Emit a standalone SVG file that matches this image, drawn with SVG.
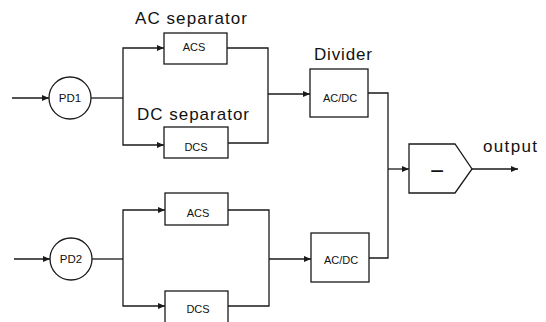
<svg xmlns="http://www.w3.org/2000/svg" width="546" height="322" viewBox="0 0 546 322">
<style>
.box{fill:#fff;stroke:#1a1a1a;stroke-width:1.3}
.ln{fill:none;stroke:#1a1a1a;stroke-width:1.3}
.big{font-family:"Liberation Sans",Arial,sans-serif;font-size:17px;fill:#111}
.sm{font-family:"Liberation Sans",Arial,sans-serif;font-size:11px;fill:#111;text-anchor:middle}
.pd{font-family:"Liberation Sans",Arial,sans-serif;font-size:11.5px;fill:#111;text-anchor:middle}
</style>
<defs>
<marker id="ah" markerUnits="userSpaceOnUse" markerWidth="8" markerHeight="6" refX="7" refY="3" orient="auto">
<path d="M0,0 L7,3 L0,6 Z" fill="#1a1a1a"/>
</marker>
</defs>
<rect width="546" height="322" fill="#fff"/>
<g id="connectors">
<path class="ln" d="M12,98 H49" marker-end="url(#ah)"/>
<path class="ln" d="M91,98 H123"/>
<path class="ln" d="M123,98 V48 H164" marker-end="url(#ah)"/>
<path class="ln" d="M123,98 V145 H164" marker-end="url(#ah)"/>
<path class="ln" d="M227,48 H268 V94"/>
<path class="ln" d="M228,143 H268 V94"/>
<path class="ln" d="M268,94 H310" marker-end="url(#ah)"/>
<path class="ln" d="M368,93 H388 V169"/>
<path class="ln" d="M369,258 H388 V169"/>
<path class="ln" d="M388,169 H409" marker-end="url(#ah)"/>
<path class="ln" d="M472,169 H518" marker-end="url(#ah)"/>
<path class="ln" d="M14,259 H50" marker-end="url(#ah)"/>
<path class="ln" d="M92,259 H123"/>
<path class="ln" d="M123,259 V210 H165" marker-end="url(#ah)"/>
<path class="ln" d="M123,259 V306 H165" marker-end="url(#ah)"/>
<path class="ln" d="M228,210 H269 V259"/>
<path class="ln" d="M228,306 H269 V259"/>
<path class="ln" d="M269,259 H311" marker-end="url(#ah)"/>
</g>
<g id="pd1">
<circle class="box" cx="70" cy="98" r="21"/>
<text class="pd" x="70" y="102">PD1</text>
</g>
<g id="acs1">
<text class="big" x="135" y="24" textLength="112" lengthAdjust="spacing">AC separator</text>
<rect class="box" x="164" y="33" width="63" height="31"/>
<text class="sm" x="194" y="51">ACS</text>
</g>
<g id="dcs1">
<text class="big" x="137" y="120" textLength="112" lengthAdjust="spacing">DC separator</text>
<rect class="box" x="164" y="127" width="64" height="31"/>
<text class="sm" x="196" y="151">DCS</text>
</g>
<g id="div1">
<text class="big" x="314" y="60" font-size="18" textLength="58" lengthAdjust="spacing">Divider</text>
<rect class="box" x="310" y="69" width="58" height="48"/>
<text class="sm" x="340" y="102">AC/DC</text>
</g>
<g id="sub">
<polygon class="box" points="409,144 455,144 472,169 455,193 409,193"/>
<text x="437" y="179" font-family="Liberation Sans,Arial,sans-serif" font-size="24" text-anchor="middle" fill="#111">−</text>
</g>
<g id="out">
<text class="big" x="483" y="152" font-size="18" textLength="54" lengthAdjust="spacing">output</text>
</g>
<g id="pd2">
<circle class="box" cx="71" cy="259" r="21"/>
<text class="pd" x="71" y="263">PD2</text>
</g>
<g id="acs2">
<rect class="box" x="165" y="193" width="63" height="32"/>
<text class="sm" x="198" y="217">ACS</text>
</g>
<g id="dcs2">
<rect class="box" x="165" y="291" width="63" height="40"/>
<text class="sm" x="198" y="313">DCS</text>
</g>
<g id="div2">
<rect class="box" x="311" y="233" width="58" height="49"/>
<text class="sm" x="341" y="264">AC/DC</text>
</g>
</svg>
